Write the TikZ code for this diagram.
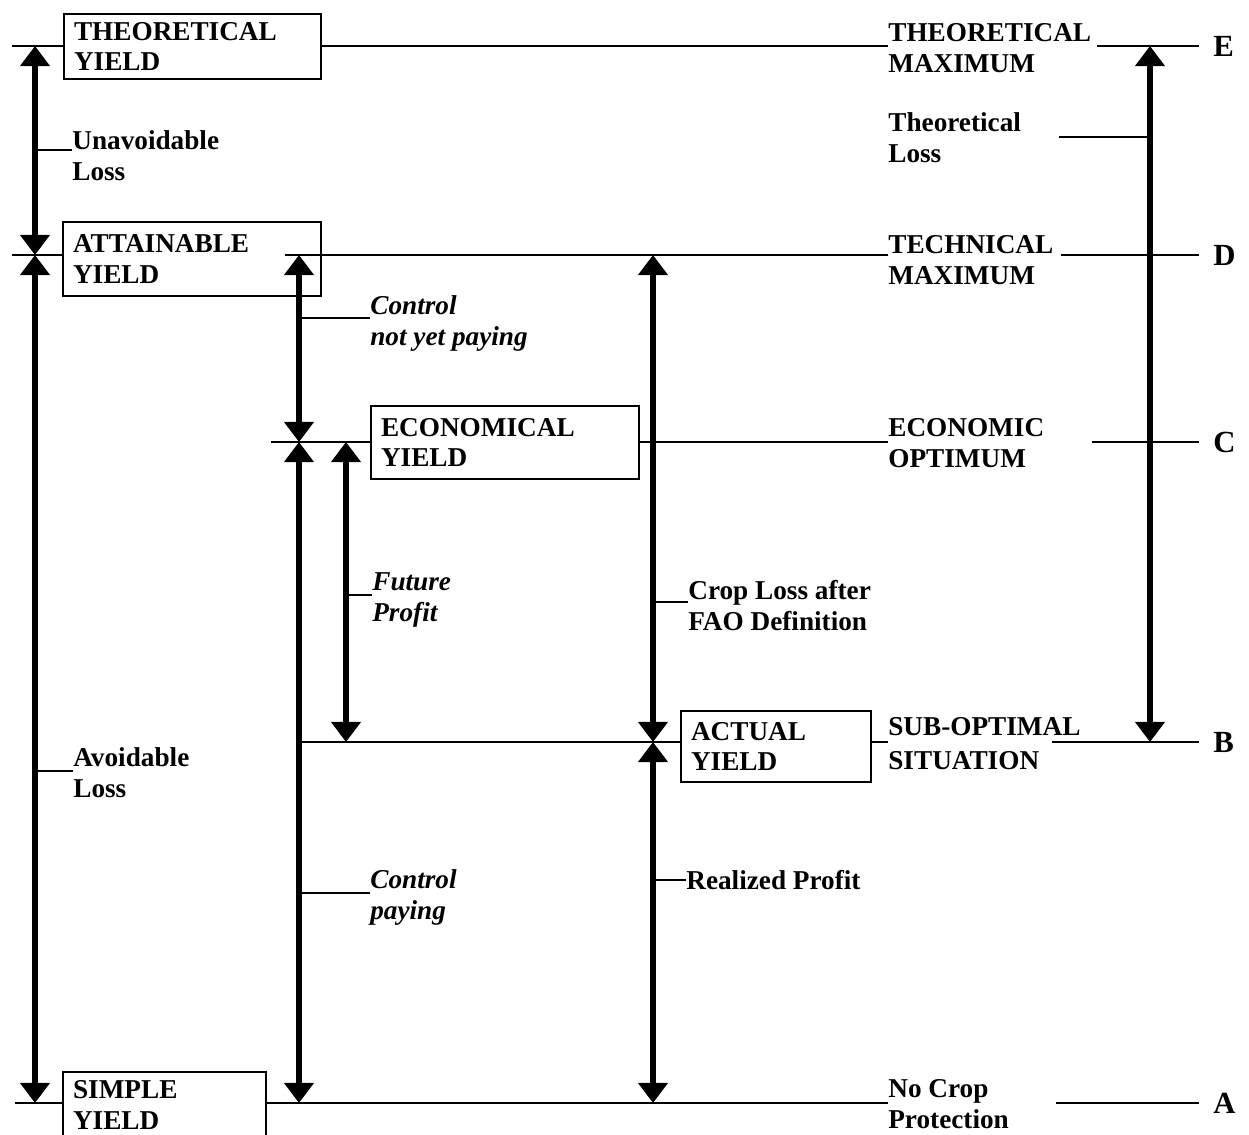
\documentclass[tikz,border=0pt]{standalone}
\usepackage{fontspec}
\setmainfont{Liberation Serif}
\usetikzlibrary{arrows.meta}

\begin{document}
\begin{tikzpicture}[
    x=0.02cm, y=-0.02cm,
    font=\fontsize{15.5}{17.6}\selectfont\bfseries,
    ybox/.style={draw, line width=1.2pt, anchor=north west, align=left, inner xsep=0.2cm, inner ysep=0pt},
    lbl/.style={anchor=north west, align=left, inner sep=0pt},
    ilbl/.style={lbl, font=\fontsize{15.5}{17.6}\selectfont\bfseries\itshape},
    lvl/.style={line width=1.1pt},
    tick/.style={line width=0.6pt},
    span/.style={line width=3.8pt, {Triangle[width=16.5pt,length=11.5pt]}-{Triangle[width=16.5pt,length=11.5pt]}},
    levelmark/.style={anchor=west, inner xsep=8pt, inner ysep=0pt, font=\fontsize{17.5}{20}\selectfont\bfseries}
  ]
  \useasboundingbox (0,0) rectangle (1249,1135);

  % levels and arrow columns
  \coordinate (yE) at (0,46);
  \coordinate (yD) at (0,255);
  \coordinate (yC) at (0,442);
  \coordinate (yB) at (0,742);
  \coordinate (yA) at (0,1103);
  \coordinate (cL) at (35,0);
  \coordinate (cM) at (299,0);
  \coordinate (cF) at (346,0);
  \coordinate (cR) at (653,0);
  \coordinate (cT) at (1150,0);

  % yield boxes
  \node[ybox, text width=4.74cm, minimum height=1.30cm] (theo) at (63,13) {THEORETICAL\\YIELD};
  \node[ybox, text width=4.76cm, minimum height=1.48cm] (attain) at (62,221) {ATTAINABLE\\YIELD};
  \node[ybox, text width=4.96cm, minimum height=1.46cm] (econ) at (370,405) {ECONOMICAL\\YIELD};
  \node[ybox, text width=3.40cm, minimum height=1.42cm] (actual) at (680,710) {ACTUAL\\YIELD};
  \node[ybox, text width=3.66cm, minimum height=1.32cm] (simple) at (62,1071) {SIMPLE\\YIELD};

  % situations
  \node[lbl] (tmax) at (888,23) {THEORETICAL\\MAXIMUM};
  \node[lbl] (tech) at (888,235) {TECHNICAL\\MAXIMUM};
  \node[lbl] (ecopt) at (888,418) {ECONOMIC\\OPTIMUM};
  \node[lbl] (subopt) at (888,717) {SUB-OPTIMAL\\[2pt]SITUATION};
  \node[lbl] (nocrop) at (888,1079) {No Crop\\Protection};

  \node[levelmark] (markE) at (1199,46) {E};
  \node[levelmark] (markD) at (1199,255) {D};
  \node[levelmark] (markC) at (1199,442) {C};
  \node[levelmark] (markB) at (1199,742) {B};
  \node[levelmark] (markA) at (1199,1103) {A};

  % level lines
  \draw[lvl] (12,46) -- (theo.west |- yE);
  \draw[lvl] (theo.east |- yE) -- (tmax.west |- yE);
  \draw[lvl] (1097,46) -- (markE.west);
  \draw[lvl] (12,255) -- (attain.west |- yD);
  \draw[lvl] (285,255) -- (tech.west |- yD);
  \draw[lvl] (1061,255) -- (markD.west);
  \draw[lvl] (271,442) -- (econ.west |- yC);
  \draw[lvl] (econ.east |- yC) -- (ecopt.west |- yC);
  \draw[lvl] (1092,442) -- (markC.west);
  \draw[lvl] (302,742) -- (actual.west |- yB);
  \draw[lvl] (actual.east |- yB) -- (subopt.west |- yB);
  \draw[lvl] (1052,742) -- (markB.west);
  \draw[lvl] (15,1103) -- (simple.west |- yA);
  \draw[lvl] (simple.east |- yA) -- (nocrop.west |- yA);
  \draw[lvl] (1056,1103) -- (markA.west);

  % spans
  \draw[span] (cL |- yE) -- (cL |- yD);
  \draw[span] (cL |- yD) -- (cL |- yA);
  \draw[span] (cM |- yD) -- (cM |- yC);
  \draw[span] (cM |- yC) -- (cM |- yA);
  \draw[span] (cF |- yC) -- (cF |- yB);
  \draw[span] (cR |- yD) -- (cR |- yB);
  \draw[span] (cR |- yB) -- (cR |- yA);
  \draw[span] (cT |- yE) -- (cT |- yB);

  % span labels
  \node[lbl] (unav) at (72,130) {Unavoidable\\Loss};
  \node[lbl] (avoid) at (73,747) {Avoidable\\Loss};
  \node[ilbl] (notpay) at (370,295) {Control\\not yet paying};
  \node[ilbl] (future) at (372,572) {Future\\Profit};
  \node[lbl] (fao) at (688,580) {Crop Loss after\\FAO Definition};
  \node[ilbl] (paying) at (370,869) {Control\\paying};
  \node[lbl, anchor=west] (realized) at (686,880) {Realized Profit};
  \node[lbl] (theoloss) at (888,112) {Theoretical\\Loss};

  \draw[tick] ([yshift=-0.40cm]unav.north west) coordinate (t1) -- (cL |- t1);
  \draw[tick] ([yshift=-0.48cm]avoid.north west) coordinate (t2) -- (cL |- t2);
  \draw[tick] ([yshift=-0.46cm]notpay.north west) coordinate (t3) -- (cM |- t3);
  \draw[tick] ([yshift=-0.46cm]future.north west) coordinate (t4) -- (cF |- t4);
  \draw[tick] ([yshift=-0.44cm]fao.north west) coordinate (t5) -- (cR |- t5);
  \draw[tick] ([yshift=-0.48cm]paying.north west) coordinate (t6) -- (cM |- t6);
  \draw[tick] (realized.west) -- (cR |- realized.west);
  \draw[tick] ([yshift=-0.50cm]theoloss.north west) coordinate (t8) (cT |- t8) -- ++(-91,0);
\end{tikzpicture}
\end{document}
